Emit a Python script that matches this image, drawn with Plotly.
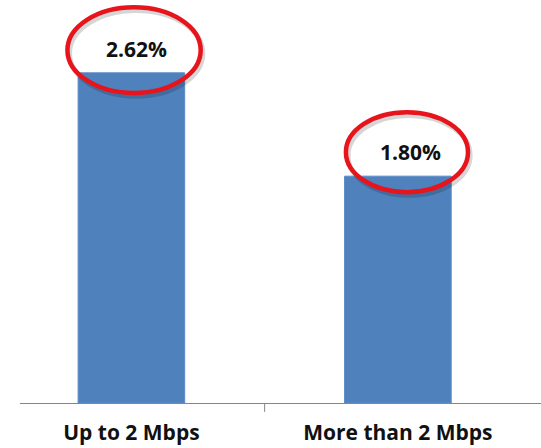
import plotly.graph_objects as go

categories = ["Up to 2 Mbps", "More than 2 Mbps"]
values = [2.62, 1.80]
value_labels = ["2.62%", "1.80%"]

BAR_COLOR = "#4F81BD"
RING_COLOR = "#E8141B"
FONT = "Open Sans"

x_idx = list(range(len(categories)))

fig = go.Figure()
fig.add_trace(go.Bar(
    x=x_idx,
    y=values,
    width=0.40,
    marker=dict(color=BAR_COLOR, line=dict(color="#5A8AC6", width=1)),
    hoverinfo="skip",
))

# value labels above each bar, with a red ring drawn around them
label_shift_x = [5, 13]
ring_dx = [0.01, 0.034]
ring_rx = [0.25, 0.229]
ring_ry = [0.34, 0.317]
ring_dy = [0.18, 0.19]

annotations = []
shapes = []
for i, (v, txt) in enumerate(zip(values, value_labels)):
    annotations.append(dict(
        x=i, y=v, xref="x", yref="y", text=f"<b>{txt}</b>",
        showarrow=False, yanchor="middle", yshift=24, xshift=label_shift_x[i],
        font=dict(family=FONT, size=21, color="#111111"),
    ))
    cx = i + ring_dx[i]
    cy = v + ring_dy[i]
    # soft shadow under the ring
    shapes.append(dict(
        type="circle", xref="x", yref="y",
        x0=cx - ring_rx[i] + 0.008, x1=cx + ring_rx[i] + 0.008,
        y0=cy - ring_ry[i] - 0.025, y1=cy + ring_ry[i] - 0.025,
        line=dict(color="rgba(0,0,0,0.16)", width=5),
    ))
    shapes.append(dict(
        type="circle", xref="x", yref="y",
        x0=cx - ring_rx[i], x1=cx + ring_rx[i],
        y0=cy - ring_ry[i], y1=cy + ring_ry[i],
        line=dict(color=RING_COLOR, width=4.5),
    ))

# single tick mark between the two categories
shapes.append(dict(
    type="line", xref="x", yref="paper",
    x0=0.5, x1=0.5, y0=0, y1=-0.022,
    line=dict(color="#868686", width=1),
))

fig.update_layout(
    width=541, height=448,
    margin=dict(l=20, r=0, t=0, b=45),
    paper_bgcolor="white", plot_bgcolor="white",
    showlegend=False,
    annotations=annotations,
    shapes=shapes,
    xaxis=dict(
        range=[-0.418, 1.537],
        tickmode="array", tickvals=x_idx, ticktext=[f"<b>{c}</b>" for c in categories],
        tickfont=dict(family=FONT, size=21, color="#111111"),
        showline=True, linecolor="#868686", linewidth=1,
        showgrid=False, zeroline=False, ticks="",
        ticklabelstandoff=11,
        fixedrange=True,
    ),
    yaxis=dict(
        range=[0, 3.198],
        visible=False, showgrid=False, zeroline=False,
        fixedrange=True,
    ),
)

fig.write_html("out.html")
